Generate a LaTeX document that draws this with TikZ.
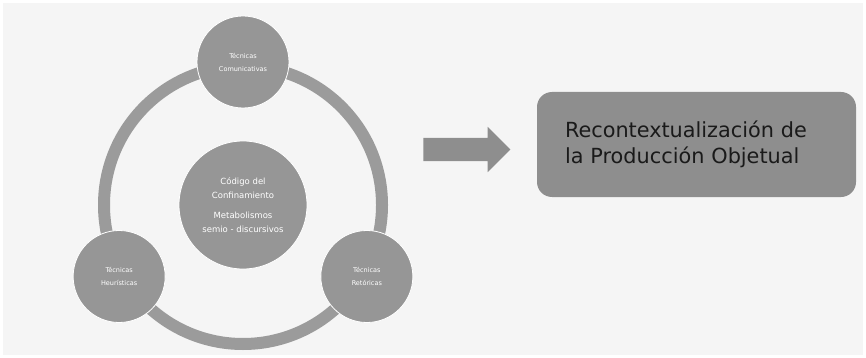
\documentclass[tikz,border=0pt]{standalone}
\usepackage{fontspec}
\setmainfont{DejaVu Sans}
\usetikzlibrary{positioning, shapes.arrows}

\definecolor{fondo}{HTML}{F5F5F5}
\definecolor{gris}{HTML}{969696}
\definecolor{grisanillo}{HTML}{9B9B9B}
\definecolor{griscaja}{HTML}{8E8E8E}
\definecolor{tinta}{HTML}{1A1A1A}

\begin{document}
\begin{tikzpicture}[
    x=1pt, y=-1pt,
    circulo/.style={circle, fill=gris, draw=white, line width=0.8pt,
        text=white, align=center, inner sep=0pt},
    tecnica/.style={circulo, minimum size=92pt, font=\fontsize{6.5}{8}\selectfont},
    anillo/.style={draw=grisanillo, line width=12pt},
    caja/.style={rounded corners=15pt, fill=griscaja, text=tinta,
        minimum width=319pt, minimum height=105pt, text width=263pt,
        align=left, font=\fontsize{20.8}{26}\selectfont}
]
    \useasboundingbox (0,0) rectangle (866,358);
    \fill[white] (0,0) rectangle (866,358);
    \fill[fondo] (3,3) rectangle (863,355);

    % ring with the center circle
    \def\radius{143pt}
    \coordinate (c) at (243,205);
    \draw[anillo] (c) circle (139pt);
    \node[circulo, minimum size=128pt, font=\fontsize{8.5}{10}\selectfont] (nucleo) at (c)
        {Código del\\[4pt]Confinamiento\\[10pt]Metabolismos\\[4pt]semio - discursivos};

    % three techniques on the ring: top, lower left, lower right
    \foreach \i/\txt in {0/Comunicativas, 1/Heurísticas, 2/Retóricas} {
        \pgfmathsetmacro{\angle}{90 + \i * 120}
        \node[tecnica] (t\i) at ([shift={(\angle:\radius)}]c) {Técnicas\\[5pt]\txt};
    }

    % arrow and result
    \node[single arrow, fill=gris!95!black, inner xsep=0pt, inner ysep=11.5pt,
        minimum height=87pt, single arrow head extend=11pt,
        single arrow head indent=0pt] (flecha) at (461,149.5) {};
    \node[caja] (resultado) at (696.5,144.5)
        {Recontextualización de\\la Producción Objetual};

\end{tikzpicture}
\end{document}
